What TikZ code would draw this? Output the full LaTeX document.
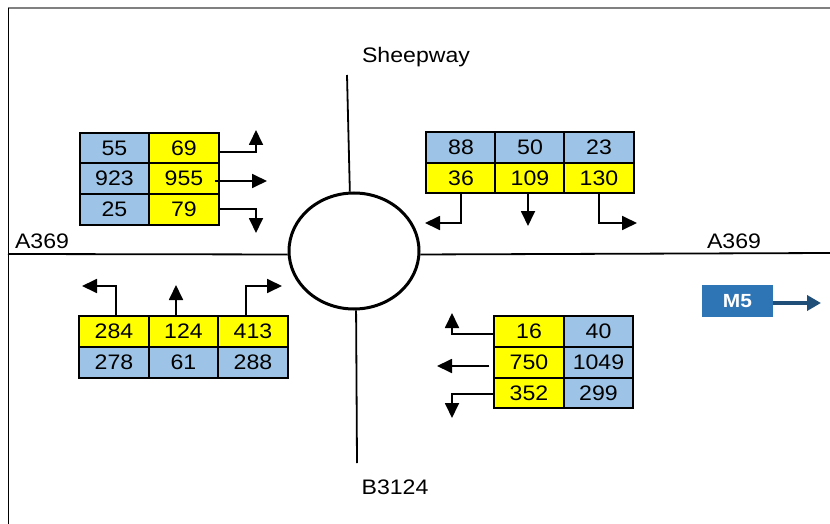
\documentclass[tikz,border=0pt]{standalone}
\usepackage{fontspec}
\setmainfont{Liberation Sans}[FakeStretch=1.1]
\usetikzlibrary{arrows.meta,shapes.geometric}
\definecolor{cellblue}{HTML}{9DC3E6}
\definecolor{cellyellow}{HTML}{FFFF00}
\definecolor{mfill}{HTML}{2E75B6}
\definecolor{marrow}{HTML}{1F4E79}
\begin{document}
\begin{tikzpicture}[x=1pt,y=-1pt,
  cell/.style={draw=black,line width=2pt,minimum width=69.5pt,minimum height=30.5pt,inner sep=0pt,font=\fontsize{21}{25}\selectfont},
  bcell/.style={cell,fill=cellblue},
  ycell/.style={cell,fill=cellyellow},
  arr/.style={line width=1.8pt,-{Triangle[length=15pt,width=14pt]}},
  roadline/.style={line width=1.8pt},
  lbl/.style={font=\fontsize{21}{25}\selectfont,inner sep=0pt}]
\useasboundingbox (0,0) rectangle (830,524);
\fill[white] (0,0) rectangle (830,524);
% frame
\draw[line width=1.5pt,color=gray] (8,8) -- (830,8);
\draw[line width=1pt] (8,8) -- (8,524);
% roundabout and roads
\node[draw,ellipse,line width=3pt,minimum width=130pt,minimum height=116pt,inner sep=0pt] (rb) at (354,251) {};
\coordinate (rn) at (347,75);
\coordinate (rs) at (357,463);
\coordinate (rw) at (8,254);
\coordinate (re) at (830,253);
\draw[roadline] (rn) -- (rb.94);
\draw[roadline] (rb.-88) -- (rs);
\draw[roadline] (rw) -- (rb.183);
\draw[roadline] (rb.-3) -- (re);
% labels
\node[lbl] (sheep) at (416,57) {Sheepway};
\node[lbl] (a369w) at (42,241) {A369};
\node[lbl] (a369e) at (734,241) {A369};
\node[lbl] (b3124) at (395,487) {B3124};
% top-left table
\node[bcell] (tl11) at (114.5,148.25) {55};
\node[ycell] (tl12) at (184,148.25) {69};
\node[bcell] (tl21) at (114.5,178.75) {923};
\node[ycell] (tl22) at (184,178.75) {955};
\node[bcell] (tl31) at (114.5,209.25) {25};
\node[ycell] (tl32) at (184,209.25) {79};
\coordinate (tlt1) at (256,130);
\coordinate (tlt2) at (267,181);
\coordinate (tlt3) at (256,233);
\draw[arr] ([yshift=-3.5pt]tl12.east) -| (tlt1);
\draw[arr] ([xshift=-5pt,yshift=-2.25pt]tl22.east) -- (tlt2);
\draw[arr] (tl32.east) -| (tlt3);
% top-right table
\node[bcell] (tr11) at (461,147.5) {88};
\node[bcell] (tr12) at (530,147.5) {50};
\node[bcell] (tr13) at (599,147.5) {23};
\node[ycell] (tr21) at (461,178) {36};
\node[ycell] (tr22) at (530,178) {109};
\node[ycell] (tr23) at (599,178) {130};
\coordinate (trt1) at (425,223);
\coordinate (trt2) at (528,226);
\coordinate (trt3) at (637,223);
\draw[arr] (tr21.south) |- (trt1);
\draw[arr] ([xshift=-2pt]tr22.south) -- (trt2);
\draw[arr] (tr23.south) |- (trt3);
% bottom-left table
\node[ycell] (bl11) at (114,331.5) {284};
\node[ycell] (bl12) at (183.5,331.5) {124};
\node[ycell] (bl13) at (253,331.5) {413};
\node[bcell] (bl21) at (114,362.5) {278};
\node[bcell] (bl22) at (183.5,362.5) {61};
\node[bcell] (bl23) at (253,362.5) {288};
\coordinate (blt1) at (82,286);
\coordinate (blt2) at (176,285);
\coordinate (blt3) at (282,286);
\draw[arr] ([xshift=2pt]bl11.north) |- (blt1);
\draw[arr] ([xshift=-7.5pt]bl12.north) -- (blt2);
\draw[arr] ([xshift=-7pt]bl13.north) |- (blt3);
% bottom-right table
\node[ycell] (br11) at (529,331.5) {16};
\node[bcell] (br12) at (598.5,331.5) {40};
\node[ycell] (br21) at (529,362.5) {750};
\node[bcell] (br22) at (598.5,362.5) {1049};
\node[ycell] (br31) at (529,393) {352};
\node[bcell] (br32) at (598.5,393) {299};
\coordinate (brt1) at (452,313);
\coordinate (brt2) at (437,366);
\coordinate (brt3) at (452,418);
\draw[arr] ([yshift=-2.5pt]br11.west) -| (brt1);
\draw[arr] ([xshift=-4pt,yshift=-3.5pt]br21.west) -- (brt2);
\draw[arr] ([yshift=-1pt]br31.west) -| (brt3);
% M5
\node[fill=mfill,text=white,minimum width=71pt,minimum height=32pt,inner sep=0pt,font=\fontsize{19}{22}\selectfont\bfseries] (m5) at (737.5,301) {M5};
\coordinate (m5t) at (821,303);
\draw[line width=3.5pt,color=marrow,-{Triangle[length=14pt,width=15pt]}] ([yshift=-2pt]m5.east) -- (m5t);
\end{tikzpicture}
\end{document}
